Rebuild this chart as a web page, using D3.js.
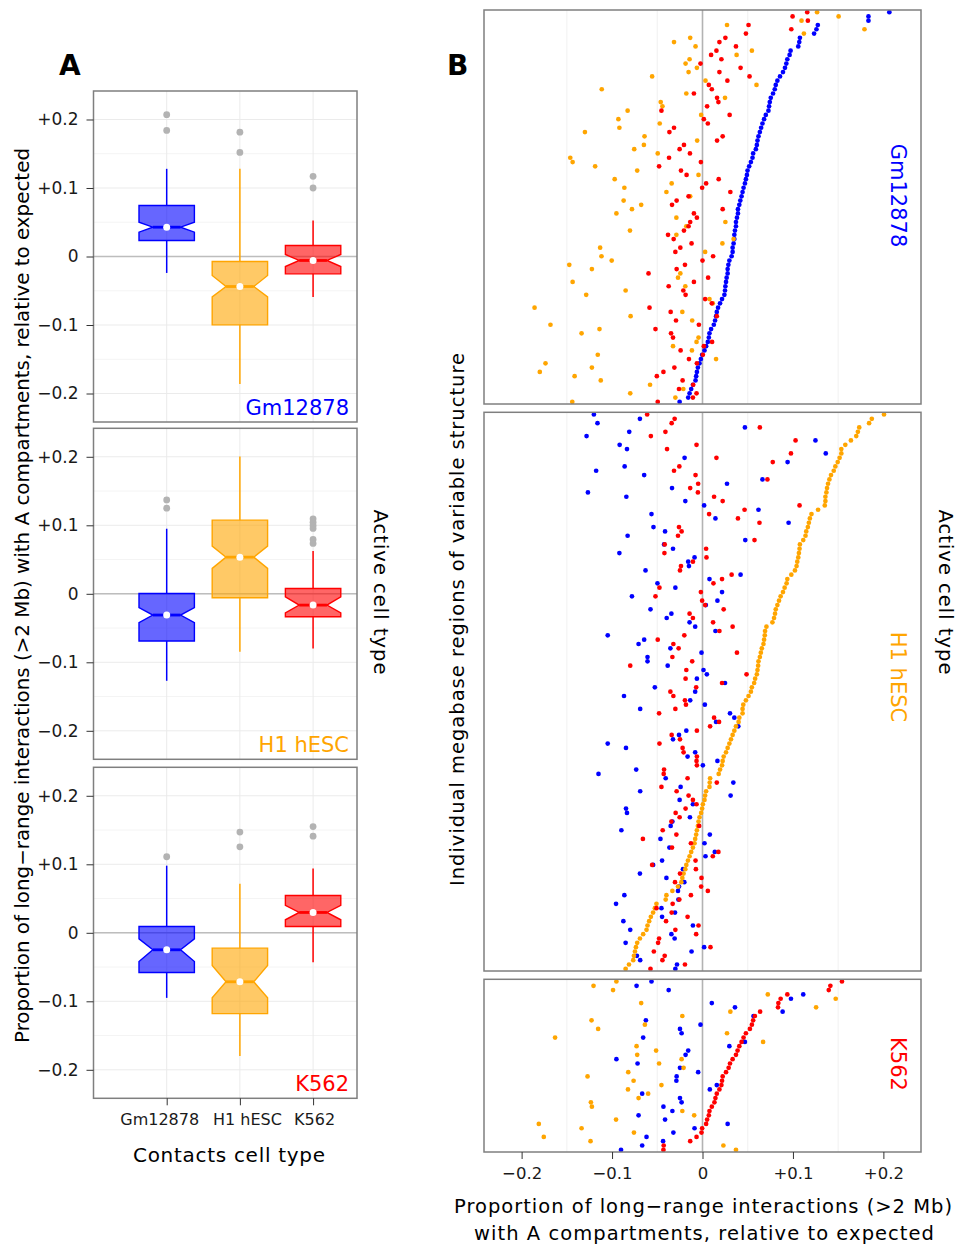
<!DOCTYPE html>
<html>
<head>
<meta charset="utf-8">
<script src="https://cdn.jsdelivr.net/npm/d3@7"></script>
<style>
  body { margin: 0; background: #fff; }
  svg text { font-family: "DejaVu Sans", sans-serif; }
</style>
</head>
<body>
<svg id="fig" width="958" height="1246"></svg>
<script>
// cell types, in facet / category order
var cellTypes = ["Gm12878", "H1 hESC", "K562"];
var cellColors = ["#0000ff", "#ffa500", "#ff0000"];
var tickValues = [-0.2, -0.1, 0, 0.1, 0.2];

// panel A : boxplot stats, one row per active cell type (facet),
// one entry per contacts cell type
var boxLow     = [[-0.024, -0.186, -0.059], [-0.127, -0.0847, -0.080], [-0.095, -0.180, -0.043]];
var boxQ1      = [[0.0234, -0.0998, -0.0253], [-0.069, -0.0058, -0.0336], [-0.058, -0.118, 0.0092]];
var boxNotchLo = [[0.0355, -0.059, -0.0146], [-0.042, 0.037, -0.028], [-0.042, -0.095, 0.019]];
var boxMedian  = [[0.0428, -0.0438, -0.0058], [-0.031, 0.0535, -0.0165], [-0.0248, -0.0715, 0.0297]];
var boxNotchHi = [[0.050, -0.0277, 0.0029], [-0.020, 0.0696, -0.0044], [-0.0088, -0.0477, 0.040]];
var boxQ3      = [[0.0745, -0.0073, 0.016], [0.0005, 0.1075, 0.0078], [0.0092, -0.0224, 0.0545]];
var boxHigh    = [[0.128, 0.128, 0.0526], [0.095, 0.2005, 0.0623], [0.098, 0.0715, 0.094]];
var boxOutliers = [
  [[0.207, 0.184], [0.1815, 0.152], [0.117, 0.100]],
  [[0.137, 0.125], [], [0.1095, 0.1046, 0.0998, 0.0955, 0.0793, 0.0735]],
  [[0.111], [0.147, 0.1255], [0.155, 0.141]]
];

// panel B : one value per region, regions listed top to bottom
// facet "Gm12878" (sorted by Gm12878)
var gmActiveGm = [
  0.2066, 0.1835, 0.1835, 0.1275, 0.126, 0.1234, 0.1077, 0.107, 0.1059, 0.0974,
  0.0963, 0.0938, 0.0927, 0.0912, 0.089, 0.0857, 0.0828, 0.081, 0.0799, 0.078,
  0.0755, 0.0744, 0.0736, 0.0729, 0.07, 0.0681, 0.0663, 0.0648, 0.0634, 0.0619,
  0.0608, 0.0601, 0.059, 0.056, 0.0553, 0.0535, 0.0516, 0.0498, 0.0491, 0.048,
  0.0469, 0.0454, 0.0443, 0.0432, 0.0418, 0.0407, 0.0392, 0.0392, 0.0381, 0.037,
  0.037, 0.0359, 0.0352, 0.0352, 0.0344, 0.0333, 0.0333, 0.0322, 0.0297, 0.0286,
  0.0278, 0.0278, 0.0267, 0.026, 0.0253, 0.0249, 0.0242, 0.0216, 0.0194, 0.0172,
  0.0158, 0.015, 0.0139, 0.0125, 0.0095, 0.0077, 0.007, 0.0059, 0.004, 0.0022,
  -0.0004, -0.0018, -0.0033, -0.0051, -0.0062, -0.007, -0.0077, -0.0106, -0.0125, -0.0143,
  -0.0158, -0.0253
];
var gmActiveH1 = [
  0.1267, 0.1505, 0.1095, 0.0271, 0.1791, 0.1121, -0.0136, -0.0315, -0.0077, 0.0546,
  0.0377, -0.0143, -0.0187, -0.0062, -0.0154, -0.0557, 0.0033, 0.0597, -0.1114, -0.0179,
  0.0249, -0.0462, -0.0443, -0.0828, -0.0015, -0.093, -0.0473, -0.0919, -0.13, -0.0641,
  -0.0059, -0.0648, -0.0755, -0.0495, -0.1462, -0.1436, -0.1187, -0.0722, -0.0044, -0.0971,
  -0.0341, -0.0864, -0.0399, -0.0136, -0.0872, -0.0678,
  -0.078, -0.0952, -0.0289, 0.0253, -0.0179, -0.0802, -0.0289, 0.0344, 0.022, -0.1132,
  0.0029, -0.1117, -0.1004, -0.1473, -0.1223, -0.0245, -0.0271, -0.1436, -0.019, -0.085,
  -0.1286, 0.0077, 0.0114, -0.1857, -0.0223, -0.0795, -0.0114, -0.1681, -0.1139, -0.1337,
  -0.0044, -0.0066, -0.0326, -0.0117, -0.1158, 0.015, -0.1736, -0.1223, -0.1799, -0.1414,
  -0.1125, -0.058, -0.0212, -0.0799, -0.03, -0.144
];
var gmActiveK562 = [
  0.1158, 0.0996, 0.1165, 0.0509, 0.0982, 0.048, 0.0253, 0.0187, 0.037, 0.0154,
  0.0095, 0.0209, -0.0022, 0.0421, 0.0187, 0.052, 0.0275, 0.007, 0.0103, -0.0095,
  0.0161, 0.0176, 0.0051, -0.0454, 0.03, 0.0015, 0.0059, -0.0315, -0.0366, 0.0223,
  0.0161, -0.0205, -0.0253, -0.0139, -0.037, -0.0018, -0.048, -0.0238, -0.0176, 0.0179,
  0.004, -0.0004, 0.0308, -0.0154, -0.0286, -0.0337,
  0.0223, -0.0095, -0.0062, -0.0136, -0.0154, -0.0205, -0.0381, -0.0319, -0.0121, -0.0245,
  -0.03, 0.0117, 0, -0.0194, -0.0286, -0.0597, 0.0062, -0.0095, -0.0374, -0.0212,
  -0.0187, 0.0029, 0.0103, -0.0586, -0.0352, 0.0158, -0.0293, -0.004, -0.052, -0.0348,
  -0.0326, 0.0106, 0.0015, -0.0242, 0.0004, -0.015, -0.0062, -0.0311, -0.0432, -0.0505,
  -0.022, -0.0103, -0.026, -0.0066, -0.0106, -0.0495
];

// facet "H1 hESC" (sorted by H1 hESC)
var h1ActiveGm = [
  -0.1201, -0.0692, -0.1161, 0.0469, -0.081, -0.1282, 0.1249, -0.0916, -0.0835, 0.1363,
  -0.0198, 0.0941, -0.0861, -0.1176, -0.0645, 0.0663, 0.0271, -0.0337, -0.1267, -0.0842,
  -0.019, 0.0018, 0.0619, -0.0564, 0.0143, 0.0952, -0.0542, -0.0414, -0.0828, 0.0473,
  -0.0425, -0.0326, -0.0919, -0.0088, -0.0158, -0.015, -0.063, 0.0421, 0.0077, -0.0498,
  -0.03, 0.0216, -0.078, 0.0165, 0.0037, -0.0575, -0.0344, -0.0396, -0.0143, -0.0081,
  0.0143, -0.1048, -0.0645, -0.0707, -0.0355, -0.0011, -0.0608, -0.0608, -0.0385, 0.0011,
  0.0048, -0.0062, 0.0249, -0.0527, -0.0081,
  -0.0868, -0.0136, 0.0026, -0.0689, 0.0304, 0.0352, 0.015, 0.0396, -0.0179, -0.026,
  -0.0326, -0.1048, -0.0846, -0.0081, -0.0165, 0.0165, 0.0004, -0.0733, -0.115, -0.0407,
  0.0341, -0.0242, -0.0689, 0.0311, -0.0253, -0.0106, -0.0846, -0.0835, -0.0139, -0.0333,
  -0.0352, -0.0897, 0.0081, -0.0465, 0.0022, -0.0366, 0.0136, 0.0033, -0.0447, -0.0546,
  -0.0216, -0.0692, -0.0399, -0.0201, -0.026, -0.0271, -0.0864, -0.0267, -0.0956, -0.0454,
  -0.0304, -0.0447, -0.0875, -0.0106, -0.0799, -0.0344, -0.0308, -0.085, 0.0018, -0.0121,
  -0.0725, -0.0689, -0.0282, -0.03
];
var h1ActiveH1 = [
  0.2007, 0.1872, 0.1842, 0.1733, 0.1718, 0.17, 0.1641, 0.1579, 0.1535, 0.1535,
  0.1516, 0.1495, 0.1469, 0.1451, 0.1421, 0.1403, 0.1388, 0.1377, 0.137, 0.1359,
  0.1359, 0.1352, 0.1278, 0.1205, 0.1187, 0.1176, 0.1165, 0.1147, 0.1139, 0.1114,
  0.1077, 0.1073, 0.1066, 0.1059, 0.1048, 0.104, 0.1022, 0.0982, 0.0938, 0.093,
  0.0908, 0.089, 0.0864, 0.0846, 0.0828, 0.081, 0.0802, 0.0791, 0.0773, 0.0707,
  0.0692, 0.0689, 0.0681, 0.0674, 0.0656, 0.0645, 0.0634, 0.0619, 0.0615, 0.0608,
  0.0601, 0.0582, 0.0571, 0.0546, 0.0535,
  0.0509, 0.048, 0.0451, 0.0443, 0.0443, 0.0407, 0.0399, 0.037, 0.0352, 0.0333,
  0.0315, 0.0297, 0.0278, 0.026, 0.0234, 0.0223, 0.0216, 0.0194, 0.0179, 0.0084,
  0.008, 0.0077, 0.004, 0.0029, 0.0022, 0.0004, -0.0004, -0.0015, -0.0033, -0.0044,
  -0.0051, -0.0062, -0.007, -0.0081, -0.0088, -0.0106, -0.0125, -0.0143, -0.0161, -0.0179,
  -0.019, -0.0209, -0.0223, -0.0234, -0.0271, -0.0333, -0.0399, -0.0407, -0.0509, -0.0527,
  -0.0546, -0.0571, -0.059, -0.0608, -0.0619, -0.0656, -0.0692, -0.0722, -0.0736, -0.0747,
  -0.0758, -0.0766, -0.0813, -0.085
];
var h1ActiveK562 = [
  -0.0612, -0.0308, -0.0341, 0.0634, -0.041, -0.0571, 0.1029, -0.0066, -0.0392, 0.0978,
  0.0154, 0.0777, -0.0256, -0.0315, -0.0077, 0.0718, -0.0048, -0.0136, -0.0051, 0.0128,
  0.0223, 0.1073, 0.0465, 0.0073, 0.0392, 0.063, -0.026, -0.0231, -0.0271, 0.0575,
  -0.0418, 0.004, -0.0421, 0.0044, -0.0106, -0.0238, -0.0249, 0.0322, 0.0216, 0.0121,
  -0.0476, -0.0018, -0.052, -0.0004, 0.0029, 0.0234, -0.0143, -0.0106, 0.0117, 0.0333,
  0.0187, -0.0201, -0.0495, -0.0322, -0.0264, 0.0381, -0.0333, -0.0114, -0.0799, -0.0179,
  0.0487, -0.0187, 0.0216, -0.007, -0.0355,
  -0.0322, -0.0194, -0.0183, -0.03, -0.048, 0.0128, 0.0183, 0.0084, -0.0062, -0.0341,
  -0.0249, -0.0476, -0.022, -0.0209, -0.0062, -0.0066, -0.0062, -0.0425, -0.0429, -0.0165,
  0.0158, -0.0454, -0.0286, -0.0154, -0.0106, -0.0066, -0.0187, -0.0297, -0.0253, -0.0344,
  -0.0037, -0.044, -0.0289, -0.0659, -0.0128, -0.0337, 0.0176, 0.0114, -0.0077, -0.0557,
  -0.0073, -0.0249, -0.0011, -0.0304, -0.0015, 0.0059, -0.0128, -0.0256, -0.033, -0.0509,
  -0.0341, -0.0165, -0.0403, -0.0044, -0.03, -0.007, -0.048, -0.0491, 0.0088, -0.0538,
  -0.0418, -0.0443, -0.0194, -0.0575
];

// facet "K562" (sorted by K562)
var k5ActiveGm = [
  -0.0564, -0.0729, -0.0374, 0.1114, 0.0978, 0.0103, 0.0359, 0.0886, 0.0564, -0.0626,
  -0.0022, -0.0249, -0.0231, -0.0656, 0.0469, 0.0297, -0.0158, -0.0187, -0.0952, -0.0718,
  -0.0249, -0.0048, -0.0286, -0.0289, 0.0158, 0.0081, -0.0667, -0.0249, -0.0231, -0.0432,
  -0.0333, -0.0707, -0.0414, 0.0278, -0.0088, -0.0322, -0.0619, -0.0436, -0.0667, -0.0901
];
var k5ActiveH1 = [
  -0.0952, -0.1205, -0.0989, 0.0722, 0.1473, -0.0678, 0.1256, 0.0308, -0.0223, -0.1227,
  -0.0637, -0.1154, 0.0271, -0.163, 0.067, -0.0729, -0.0513, -0.0722, -0.0231, -0.048,
  -0.0209, -0.0821, -0.1271, -0.0762, -0.0454, -0.0824, -0.0601, -0.0707, -0.1234, -0.1223,
  -0.0223, -0.0092, -0.0956, -0.181, -0.1337, -0.0758, -0.1755, -0.1238, 0.0231, 0.037
];
var k5ActiveK562 = [
  0.1542, 0.1414, 0.1396, 0.0938, 0.0864, 0.0839, 0.0835, 0.0637, 0.0579, 0.056,
  0.0546, 0.0524, 0.048, 0.0454, 0.0432, 0.0407, 0.0388, 0.037, 0.0333, 0.0304,
  0.0289, 0.026, 0.0223, 0.0216, 0.0209, 0.0187, 0.0158, 0.0143, 0.0132, 0.0103,
  0.0077, 0.007, 0.0051, 0.004, -0.0004, -0.0011, -0.0066, -0.0136, -0.0429, -0.0432
];

var svg = d3.select("#fig");
svg.append("rect").attr("width", 958).attr("height", 1246).attr("fill", "#fff");

var fmt = function(d) {
  if (d === 0) return "0";
  return (d > 0 ? "+" : "\u2212") + Math.abs(d).toFixed(1);
};
var lim = 0.2416;

// ---------------- panel A ----------------
var ax = d3.scaleLinear().domain([0, 3.6]).range([93.5, 357]);
var aTops = [91, 428.3, 767.3];
var aH = 331;
var boxW = 27.7;
var catLabelShift = [-7.5, 7, 1];

aTops.forEach(function(top, f) {
  var y = d3.scaleLinear().domain([-lim, lim]).range([top + aH, top]);
  var g = svg.append("g");

  g.selectAll(".minor").data([-0.15, -0.05, 0.05, 0.15]).enter().append("line")
    .attr("x1", ax(0)).attr("x2", ax(3.6))
    .attr("y1", y).attr("y2", y)
    .attr("stroke", "#f4f4f4").attr("stroke-width", 1);
  g.selectAll(".major").data(tickValues).enter().append("line")
    .attr("x1", ax(0)).attr("x2", ax(3.6))
    .attr("y1", y).attr("y2", y)
    .attr("stroke", "#ebebeb").attr("stroke-width", 1);
  g.selectAll(".vgrid").data([1, 2, 3]).enter().append("line")
    .attr("x1", ax).attr("x2", ax)
    .attr("y1", top).attr("y2", top + aH)
    .attr("stroke", "#ebebeb").attr("stroke-width", 1);
  g.append("line")
    .attr("x1", ax(0)).attr("x2", ax(3.6))
    .attr("y1", y(0)).attr("y2", y(0))
    .attr("stroke", "#bdbdbd").attr("stroke-width", 1.4);

  cellTypes.forEach(function(ct, i) {
    var cx = ax(i + 1), col = cellColors[i];
    // whiskers
    g.append("line").attr("x1", cx).attr("x2", cx)
      .attr("y1", y(boxQ3[f][i])).attr("y2", y(boxHigh[f][i]))
      .attr("stroke", col).attr("stroke-width", 1.5);
    g.append("line").attr("x1", cx).attr("x2", cx)
      .attr("y1", y(boxQ1[f][i])).attr("y2", y(boxLow[f][i]))
      .attr("stroke", col).attr("stroke-width", 1.5);
    // notched box
    var pts = [
      [cx - boxW, y(boxQ3[f][i])], [cx + boxW, y(boxQ3[f][i])],
      [cx + boxW, y(boxNotchHi[f][i])], [cx + boxW / 2, y(boxMedian[f][i])],
      [cx + boxW, y(boxNotchLo[f][i])], [cx + boxW, y(boxQ1[f][i])],
      [cx - boxW, y(boxQ1[f][i])], [cx - boxW, y(boxNotchLo[f][i])],
      [cx - boxW / 2, y(boxMedian[f][i])], [cx - boxW, y(boxNotchHi[f][i])]
    ];
    g.append("path").attr("d", d3.line()(pts) + "Z")
      .attr("fill", col).attr("fill-opacity", 0.6)
      .attr("stroke", col).attr("stroke-width", 1.4)
      .attr("stroke-linejoin", "miter");
    g.append("line")
      .attr("x1", cx - boxW / 2).attr("x2", cx + boxW / 2)
      .attr("y1", y(boxMedian[f][i])).attr("y2", y(boxMedian[f][i]))
      .attr("stroke", col).attr("stroke-width", 2.8);
    g.append("circle").attr("cx", cx).attr("cy", y(boxMedian[f][i]))
      .attr("r", 3.5).attr("fill", "#fff");
    g.selectAll(null).data(boxOutliers[f][i]).enter().append("circle")
      .attr("cx", cx).attr("cy", y).attr("r", 3.4).attr("fill", "#b3b3b3");
  });

  g.append("rect").attr("x", ax(0)).attr("y", top)
    .attr("width", ax(3.6) - ax(0)).attr("height", aH)
    .attr("fill", "none").attr("stroke", "#7f7f7f").attr("stroke-width", 1.5);

  g.append("text").attr("x", 349).attr("y", top + aH - 7.5)
    .attr("text-anchor", "end").attr("font-size", 21)
    .attr("fill", cellColors[f]).text(cellTypes[f]);

  var yAxis = g.append("g").attr("transform", "translate(" + ax(0) + ",0)")
    .call(d3.axisLeft(y).tickValues(tickValues).tickFormat(fmt).tickSize(7).tickPadding(8));
  yAxis.select(".domain").remove();
  yAxis.selectAll("line").attr("stroke", "#333");
  yAxis.selectAll("text").attr("font-family", "'Liberation Sans', Arial, sans-serif")
    .attr("font-size", 17).attr("fill", "#1a1a1a");

  if (f === 2) {
    var xAxis = g.append("g").attr("transform", "translate(0," + (top + aH) + ")")
      .call(d3.axisBottom(ax).tickValues([1, 2, 3])
        .tickFormat(function(d) { return cellTypes[d - 1]; }).tickSize(7).tickPadding(8));
    xAxis.select(".domain").remove();
    xAxis.selectAll("line").attr("stroke", "#333");
    xAxis.selectAll("text").attr("font-family", "'DejaVu Sans', sans-serif")
      .attr("font-size", 16).attr("fill", "#1a1a1a")
      .attr("dx", function(d) { return catLabelShift[d - 1]; });
  }
});

svg.append("text").attr("x", 229).attr("y", 1162).attr("text-anchor", "middle")
  .attr("font-size", 20).attr("textLength", 192).text("Contacts cell type");
svg.append("text")
  .attr("transform", "translate(29,595.5) rotate(-90)")
  .attr("text-anchor", "middle").attr("font-size", 19.5).attr("textLength", 895)
  .attr("lengthAdjust", "spacingAndGlyphs")
  .text("Proportion of long\u2212range interactions (>2 Mb) with A compartments, relative to expected");
svg.append("text")
  .attr("transform", "translate(374,592) rotate(90)")
  .attr("text-anchor", "middle").attr("font-size", 19.5).attr("textLength", 165)
  .text("Active cell type");

// ---------------- panel B ----------------
var bx = d3.scaleLinear().domain([-lim, lim]).range([484, 921]);
var bFacets = [
  { top: 10, bottom: 404, series: [gmActiveGm, gmActiveH1, gmActiveK562], labelY: 195.5 },
  { top: 412.3, bottom: 971, series: [h1ActiveGm, h1ActiveH1, h1ActiveK562], labelY: 677 },
  { top: 979.3, bottom: 1152, series: [k5ActiveGm, k5ActiveH1, k5ActiveK562], labelY: 1064 }
];

bFacets.forEach(function(fc, f) {
  var n = fc.series[f].length;
  var by = d3.scalePoint().domain(d3.range(n)).range([fc.top, fc.bottom]).padding(0.5);
  var g = svg.append("g");
  var clipId = "clipB" + f;
  svg.append("clipPath").attr("id", clipId).append("rect")
    .attr("x", bx.range()[0]).attr("y", fc.top)
    .attr("width", bx.range()[1] - bx.range()[0]).attr("height", fc.bottom - fc.top);

  g.selectAll(".minor").data([-0.15, -0.05, 0.05, 0.15]).enter().append("line")
    .attr("x1", bx).attr("x2", bx).attr("y1", fc.top).attr("y2", fc.bottom)
    .attr("stroke", "#f3f3f3").attr("stroke-width", 1.2);
  g.append("line").attr("x1", bx(0)).attr("x2", bx(0))
    .attr("y1", fc.top).attr("y2", fc.bottom)
    .attr("stroke", "#b3b3b3").attr("stroke-width", 1.6);

  var dots = g.append("g").attr("clip-path", "url(#" + clipId + ")");
  fc.series.forEach(function(vals, s) {
    dots.selectAll(null).data(vals).enter().append("circle")
      .attr("cx", function(d) { return bx(d); })
      .attr("cy", function(d, i) { return by(i); })
      .attr("r", 2.35).attr("fill", cellColors[s]);
  });

  g.append("rect").attr("x", bx.range()[0]).attr("y", fc.top)
    .attr("width", bx.range()[1] - bx.range()[0]).attr("height", fc.bottom - fc.top)
    .attr("fill", "none").attr("stroke", "#7f7f7f").attr("stroke-width", 1.5);

  g.append("text")
    .attr("transform", "translate(891," + fc.labelY + ") rotate(90)")
    .attr("text-anchor", "middle").attr("font-size", 21)
    .attr("fill", cellColors[f]).text(cellTypes[f]);

  if (f === 2) {
    var xAxis = g.append("g").attr("transform", "translate(0," + fc.bottom + ")")
      .call(d3.axisBottom(bx).tickValues(tickValues).tickFormat(fmt).tickSize(7).tickPadding(8.5));
    xAxis.select(".domain").remove();
    xAxis.selectAll("line").attr("stroke", "#333");
    xAxis.selectAll("text").attr("font-family", "'Liberation Sans', Arial, sans-serif")
      .attr("font-size", 16.5).attr("fill", "#1a1a1a");
  }
});

svg.append("text").attr("x", 703).attr("y", 1213).attr("text-anchor", "middle")
  .attr("font-size", 19.5).attr("textLength", 498)
  .text("Proportion of long\u2212range interactions (>2 Mb)");
svg.append("text").attr("x", 704).attr("y", 1240).attr("text-anchor", "middle")
  .attr("font-size", 19.5).attr("textLength", 460)
  .text("with A compartments, relative to expected");
svg.append("text")
  .attr("transform", "translate(464,619.5) rotate(-90)")
  .attr("text-anchor", "middle").attr("font-size", 19.5).attr("textLength", 533)
  .text("Individual megabase regions of variable structure");
svg.append("text")
  .attr("transform", "translate(939,592) rotate(90)")
  .attr("text-anchor", "middle").attr("font-size", 19.5).attr("textLength", 165)
  .text("Active cell type");

// panel letters
svg.append("text").attr("x", 59).attr("y", 75).attr("font-size", 28)
  .attr("font-weight", "bold").text("A");
svg.append("text").attr("x", 447).attr("y", 75).attr("font-size", 28)
  .attr("font-weight", "bold").text("B");
</script>
</body>
</html>
